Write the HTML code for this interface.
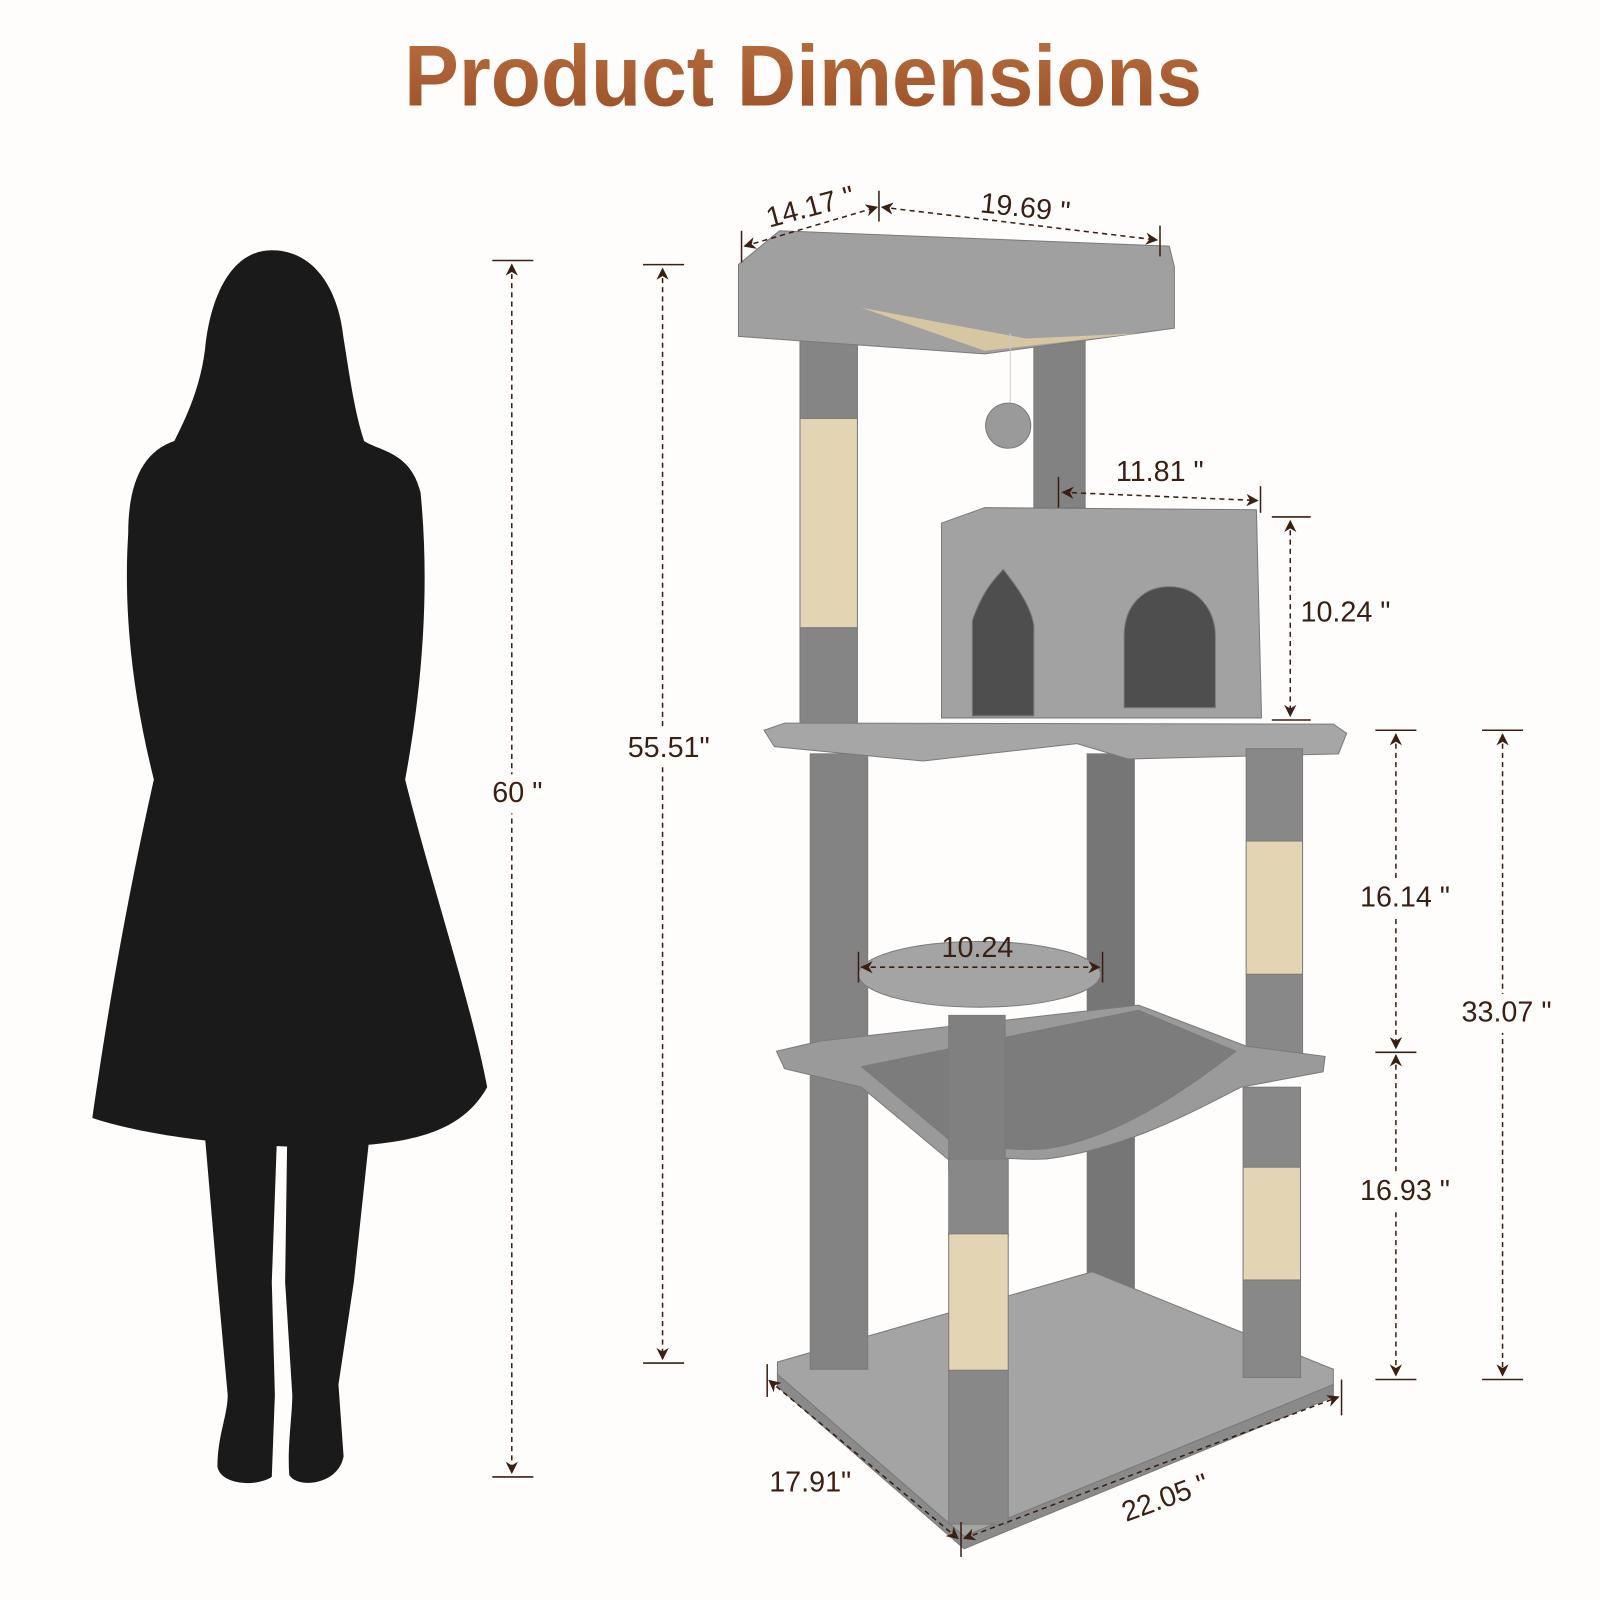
<!DOCTYPE html>
<html><head><meta charset="utf-8"><style>
html,body{margin:0;padding:0;background:#fffdfc;}
svg{display:block}
text{font-family:"Liberation Sans",sans-serif;}
</style></head><body>
<svg width="1600" height="1600" viewBox="0 0 1560 1560" xmlns="http://www.w3.org/2000/svg">
<defs>
<linearGradient id="tg" x1="0" y1="0" x2="0" y2="1"><stop offset="0" stop-color="#b9703f"/><stop offset="1" stop-color="#9a4f28"/></linearGradient>
<marker id="ah" viewBox="0 0 10 10" refX="9" refY="5" markerWidth="12" markerHeight="12" orient="auto-start-reverse" markerUnits="userSpaceOnUse"><path d="M0,0 L10,5 L0,10 L3,5 z" fill="#3a1f12"/></marker>
</defs>
<rect width="1560" height="1560" fill="#fffdfc"/>
<text x="394" y="103" font-size="84" font-weight="bold" fill="url(#tg)" textLength="778" lengthAdjust="spacingAndGlyphs">Product Dimensions</text>

<g fill="#1a1a1a">
<path d="M265,244 C225,244 205,290 200,340 C195,380 180,410 170,430 C140,440 125,470 125,520 C120,600 130,680 150,760 C130,850 110,950 90,1090 C150,1110 250,1120 330,1118 C400,1115 450,1105 475,1060 C460,980 420,860 395,760 C410,680 420,580 410,480 C400,440 370,440 355,430 C345,400 340,360 335,330 C330,280 305,244 265,244 Z"/>
<path d="M200,1110 L270,1110 L265,1250 L268,1360 L265,1440 C250,1450 215,1448 212,1430 C212,1400 222,1380 222,1360 L212,1250 Z"/>
<path d="M280,1110 L360,1110 L345,1250 L330,1350 L335,1420 C330,1448 290,1452 282,1438 C280,1410 285,1380 285,1360 L278,1250 Z"/>
</g>

<g fill="#8e8e8e" stroke="#7a7a7a" stroke-width="1">
<rect x="1060" y="735" width="46" height="525" fill="#767676"/>
<rect x="1008" y="330" width="50" height="165" fill="#828282"/>
<path d="M758,1328 L1065,1240 L1300,1335 L1300,1350 L940,1498 L758,1340 Z" fill="#a4a4a4"/>
<path d="M758,1340 L940,1498 L1300,1350 L1300,1362 L940,1510 L758,1352 Z" fill="#8a8a8a"/>
<rect x="790" y="735" width="56" height="600" fill="#838383"/>
<rect x="780" y="310" width="56" height="100" fill="#858585"/>
<rect x="780" y="408" width="56" height="205" fill="#e3d5b3"/>
<rect x="780" y="612" width="56" height="100" fill="#858585"/>
<path d="M720,258 L760,225 L1140,240 L1145,260 L1145,320 L960,345 L860,338 L720,328 Z" fill="#a0a0a0"/>
<path d="M840,300 L1000,330 L1110,325 L960,342 Z" fill="#d6c6a2" stroke="none"/>
<line x1="985" y1="325" x2="985" y2="405" stroke="#ccc"/>
<circle cx="983" cy="415" r="22" fill="#9a9a9a"/>
<path d="M918,510 L960,495 L1225,497 L1230,700 L918,700 Z" fill="#a2a2a2"/>
<path d="M948,698 L948,605 C960,570 975,560 978,555 C990,570 1005,590 1008,610 L1008,698 Z" fill="#4e4e4e"/>
<path d="M1096,690 L1096,620 C1096,590 1115,572 1140,572 C1168,572 1185,595 1185,620 L1185,690 Z" fill="#4e4e4e"/>
<path d="M745,712 L765,705 L1300,706 L1313,715 L1305,735 L1100,740 L1050,725 L900,742 L755,728 Z" fill="#a6a6a6"/>
<rect x="1215" y="730" width="55" height="90" fill="#888"/>
<rect x="1215" y="820" width="55" height="130" fill="#e3d5b3"/>
<rect x="1215" y="950" width="55" height="80" fill="#888"/>
<rect x="1212" y="1060" width="56" height="80" fill="#888"/>
<rect x="1212" y="1138" width="56" height="110" fill="#e3d5b3"/>
<rect x="1212" y="1248" width="56" height="95" fill="#888"/>
<path d="M757,1025 L800,1015 L1110,980 L1215,1020 L1292,1030 L1290,1045 L1210,1060 C1170,1080 1100,1120 1020,1130 C980,1132 940,1122 930,1135 L840,1060 L765,1042 Z" fill="#9a9a9a"/>
<path d="M840,1040 L1110,985 L1205,1025 C1160,1060 1090,1110 1020,1120 C970,1124 940,1110 930,1115 Z" fill="#7c7c7c"/>
<rect x="925" y="990" width="55" height="150" fill="#808080"/>
<ellipse cx="955" cy="950" rx="118" ry="32" fill="#a4a4a4"/>
<rect x="925" y="1130" width="58" height="75" fill="#888"/>
<rect x="925" y="1203" width="58" height="135" fill="#e3d5b3"/>
<rect x="925" y="1336" width="58" height="150" fill="#888"/>
</g>

<g stroke="#3a1f12" stroke-width="1.5" fill="none">
<g stroke-dasharray="5,4">
<line x1="499" y1="258" x2="499" y2="1436" marker-start="url(#ah)" marker-end="url(#ah)"/>
<line x1="646" y1="262" x2="646" y2="1325" marker-start="url(#ah)" marker-end="url(#ah)"/>
<line x1="1361" y1="716" x2="1361" y2="1022" marker-start="url(#ah)" marker-end="url(#ah)"/>
<line x1="1361" y1="1029" x2="1361" y2="1341" marker-start="url(#ah)" marker-end="url(#ah)"/>
<line x1="1465" y1="716" x2="1465" y2="1341" marker-start="url(#ah)" marker-end="url(#ah)"/>
<line x1="1258" y1="508" x2="1258" y2="698" marker-start="url(#ah)" marker-end="url(#ah)"/>
<line x1="1036" y1="480" x2="1226" y2="488" marker-start="url(#ah)" marker-end="url(#ah)"/>
<line x1="840" y1="943" x2="1072" y2="943" marker-start="url(#ah)" marker-end="url(#ah)"/>
<line x1="726" y1="240" x2="855" y2="202" marker-start="url(#ah)" marker-end="url(#ah)"/>
<line x1="860" y1="202" x2="1128" y2="234" marker-start="url(#ah)" marker-end="url(#ah)"/>
<line x1="750" y1="1346" x2="934" y2="1500" marker-start="url(#ah)" marker-end="url(#ah)"/>
<line x1="940" y1="1500" x2="1305" y2="1362" marker-start="url(#ah)" marker-end="url(#ah)"/>
</g>
<line x1="480" y1="254" x2="520" y2="254"/><line x1="480" y1="1440" x2="520" y2="1440"/>
<line x1="627" y1="258" x2="667" y2="258"/><line x1="627" y1="1329" x2="667" y2="1329"/>
<line x1="1341" y1="712" x2="1381" y2="712"/><line x1="1341" y1="1026" x2="1381" y2="1026"/><line x1="1341" y1="1345" x2="1381" y2="1345"/>
<line x1="1445" y1="712" x2="1485" y2="712"/><line x1="1445" y1="1345" x2="1485" y2="1345"/>
<line x1="1240" y1="504" x2="1278" y2="504"/><line x1="1240" y1="702" x2="1278" y2="702"/>
<line x1="1032" y1="465" x2="1032" y2="495"/><line x1="1229" y1="474" x2="1229" y2="500"/>
<line x1="837" y1="928" x2="837" y2="958"/><line x1="1075" y1="928" x2="1075" y2="958"/>
<line x1="723" y1="225" x2="723" y2="256"/><line x1="857" y1="186" x2="857" y2="216"/><line x1="1131" y1="220" x2="1131" y2="250"/>
<line x1="748" y1="1330" x2="748" y2="1362"/><line x1="937" y1="1484" x2="937" y2="1518"/><line x1="1308" y1="1345" x2="1308" y2="1380"/>
</g>

<g fill="#fffdfc">
<rect x="476" y="755" width="62" height="38"/>
<rect x="608" y="710" width="88" height="38"/>
<rect x="1322" y="857" width="96" height="38"/>
<rect x="1322" y="1143" width="96" height="38"/>
<rect x="1421" y="969" width="100" height="38"/>
<rect x="1264" y="579" width="100" height="38"/>
<rect x="1085" y="442" width="90" height="36"/>
</g>
<g fill="#3a1f12" font-size="28">
<text x="480" y="782">60 "</text>
<text x="612" y="738">55.51"</text>
<text x="1326" y="884">16.14 "</text>
<text x="1326" y="1170">16.93 "</text>
<text x="1425" y="996">33.07 "</text>
<text x="1268" y="606">10.24 "</text>
<text x="1088" y="469">11.81 "</text>
<text x="918" y="933">10.24</text>
<text x="955" y="207" transform="rotate(6 955 207)">19.69 "</text>
<text x="750" y="222" transform="rotate(-15 750 222)">14.17 "</text>
<text x="750" y="1454">17.91"</text>
<text x="1098" y="1484" transform="rotate(-20 1098 1484)">22.05 "</text>
</g>
</svg>
</body></html>
